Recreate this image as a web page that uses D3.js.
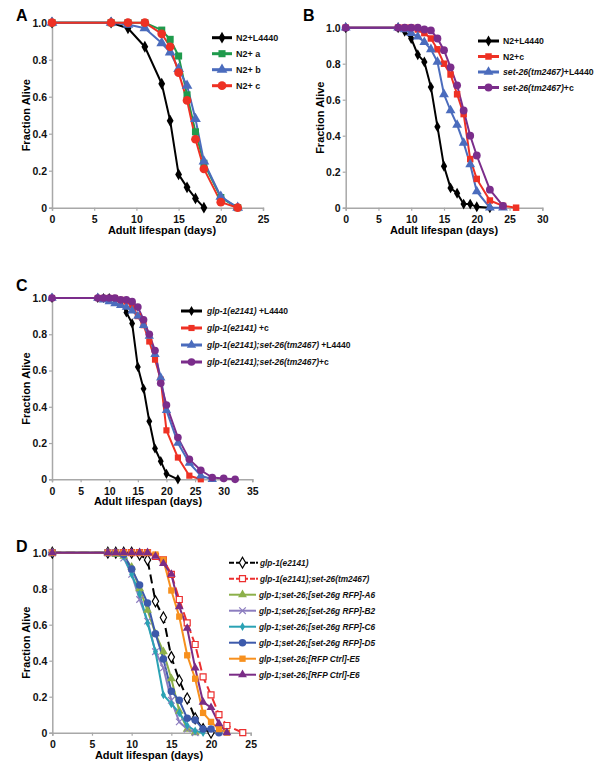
<!DOCTYPE html>
<html><head><meta charset="utf-8">
<script src="https://cdn.jsdelivr.net/npm/d3@7"></script>
<style>
body{margin:0;background:#fff;}
text{font-family:"Liberation Sans",Arial,sans-serif;font-weight:bold;}
</style></head>
<body>
<svg id="chart" width="607" height="768"></svg>
<script>
// ---------- DATA ----------
// Panel A
const aN2L4440 = [[0,1],[7,1],[9,0.97],[11,0.87],[13,0.67],[14,0.47],[15,0.18],[16,0.11],[17,0.05],[18,0]];
const aN2a     = [[0,1],[7,1],[9,1],[11,1],[13,0.96],[14,0.91],[15,0.82],[16,0.61],[17,0.41],[18,0.24],[20,0.055],[22,0]];
const aN2b     = [[0,1],[7,1],[9,0.99],[11,0.97],[13,0.89],[14,0.84],[15,0.75],[16,0.66],[17,0.48],[18,0.25],[20,0.06],[22,0]];
const aN2c     = [[0,1],[7,1],[9,1],[11,1],[13,0.94],[14,0.87],[15,0.73],[16,0.58],[17,0.37],[18,0.21],[20,0.03],[22,0]];
// Panel B
const bN2L4440 = [[0,1],[8,1],[9,0.98],[10,0.94],[11,0.85],[12,0.81],[13,0.67],[14,0.45],[15,0.23],[16,0.11],[17,0.08],[18,0.02],[19,0.02],[20,0.005],[22,0]];
const bN2c     = [[0,1],[8,1],[9,1],[10,1],[11,0.99],[12,0.97],[13,0.94],[14,0.88],[15,0.80],[16,0.74],[17,0.63],[18,0.52],[19,0.27],[20,0.16],[22,0.04],[24,0.01],[26,0]];
const bSetL4440= [[0,1],[8,1],[9,0.99],[10,0.97],[11,0.95],[12,0.92],[13,0.88],[14,0.81],[15,0.63],[16,0.54],[17,0.46],[18,0.36],[19,0.24],[20,0.09],[22,0],[24,0]];
const bSetc    = [[0,1],[8,1],[9,1],[10,1],[11,1],[12,0.99],[13,0.985],[14,0.94],[15,0.875],[16,0.78],[17,0.68],[18,0.54],[19,0.40],[20,0.29],[22,0.10],[24,0.01]];
// Panel C
const cGlpL4440 = [[0,1],[8,1],[9,1],[10,1],[11,0.99],[12,0.98],[13,0.92],[14,0.86],[15,0.62],[16,0.50],[17,0.32],[18,0.17],[19,0.10],[20,0.03],[22,0]];
const cGlpc     = [[0,1],[8,1],[9,1],[10,1],[11,1],[12,0.99],[13,0.98],[14,0.96],[15,0.90],[16,0.85],[17,0.76],[18,0.66],[19,0.55],[20,0.27],[22,0.12],[24,0.02],[26,0]];
const cGlpSetL4440 = [[0,1],[8,1],[9,0.99],[10,0.98],[11,0.97],[12,0.96],[13,0.95],[14,0.93],[15,0.90],[16,0.85],[17,0.79],[18,0.69],[19,0.56],[20,0.38],[22,0.20],[24,0.09],[26,0.02],[28,0]];
const cGlpSetc  = [[0,1],[8,1],[9,1],[10,1],[11,1],[12,0.99],[13,0.99],[14,0.98],[15,0.95],[16,0.88],[17,0.80],[18,0.71],[19,0.53],[20,0.41],[22,0.23],[24,0.11],[26,0.05],[28,0.01],[30,0.005],[32,0]];
// Panel D
const dGlp   = [[0,1],[7,1],[8,1],[9,1],[10,1],[11,0.99],[12,0.96],[13,0.73],[14,0.64],[15,0.42],[16,0.29],[17,0.19],[18,0.08],[19,0.02],[20,0]];
const dGlpSet= [[0,1],[7,1],[8,1],[9,1],[10,1],[11,1],[12,1],[13,0.98],[14,0.96],[15,0.88],[16,0.74],[17,0.61],[18,0.49],[19,0.31],[20,0.21],[21,0.10],[22,0.04],[24,0]];
const dA6    = [[0,1],[7,1],[8,0.99],[9,0.98],[10,0.92],[11,0.80],[12,0.68],[13,0.55],[14,0.45],[15,0.30],[16,0.12],[17,0.02],[18,0]];
const dB2    = [[0,1],[7,1],[8,1],[9,0.97],[10,0.88],[11,0.74],[12,0.62],[13,0.45],[14,0.36],[15,0.18],[16,0.06],[17,0.02],[18,0]];
const dC6    = [[0,1],[7,1],[8,1],[9,0.98],[10,0.88],[11,0.77],[12,0.61],[13,0.45],[14,0.21],[15,0.16],[16,0.11],[17,0.04],[18,0.01],[19,0]];
const dD5    = [[0,1],[7,1],[8,1],[9,0.99],[10,0.91],[11,0.82],[12,0.72],[13,0.55],[14,0.41],[15,0.23],[16,0.18],[17,0.08],[18,0.07],[19,0.02],[20,0.02],[21,0]];
const dE5    = [[0,1],[7,1],[8,1],[9,1],[10,1],[11,1],[12,1],[13,0.99],[14,0.96],[15,0.79],[16,0.645],[17,0.43],[18,0.30],[19,0.11],[20,0.06],[21,0.02],[22,0]];
const dE6    = [[0,1],[7,1],[8,1],[9,1],[10,1],[11,1],[12,1],[13,0.98],[14,0.94],[15,0.88],[16,0.70],[17,0.58],[18,0.36],[19,0.17],[20,0.14],[21,0.05],[22,0]];

const yTicks = [0,0.2,0.4,0.6,0.8,1.0];
const xTicksA = [0,5,10,15,20,25];
const xTicksB = [0,5,10,15,20,25,30];
const xTicksC = [0,5,10,15,20,25,30,35];
const xTicksD = [0,5,10,15,20,25];

// ---------- DRAW ----------
const svg = d3.select("#chart");

function drawPanel(p){
  const g = svg.append("g");
  const x = d3.scaleLinear().domain([0, p.xmax]).range([p.x0, p.x1]);
  const y = d3.scaleLinear().domain([0,1]).range([p.yb, p.yt]);
  const axisCol = "#a8a8a8";
  // axes
  const xa = g.append("g").attr("transform",`translate(0,${p.yb})`)
    .call(d3.axisBottom(x).tickValues(p.xticks).tickSize(3).tickFormat(d3.format("d")));
  const ya = g.append("g").attr("transform",`translate(${p.x0},0)`)
    .call(d3.axisLeft(y).tickValues(yTicks).tickSize(3).tickFormat(d=>d===0?"0":d3.format(".1f")(d)));
  [xa,ya].forEach(a=>{
    a.select(".domain").attr("stroke",axisCol).attr("stroke-width",1.5);
    a.selectAll(".tick line").attr("stroke",axisCol).attr("stroke-width",1.2);
    a.selectAll(".tick text").attr("fill","#111").style("font-size","10.5px").style("font-weight","bold")
      .style("font-family","'Liberation Sans',Arial,sans-serif");
  });
  xa.selectAll(".tick text").attr("dy","0.9em");
  ya.selectAll(".tick text").attr("x",-5);
  // titles
  g.append("text").attr("x",p.xtx).attr("y",p.yb+26).attr("text-anchor","middle")
    .style("font-size","11px").text("Adult lifespan (days)");
  g.append("text").attr("transform",`translate(${p.x0-22},${(p.yt+p.yb)/2}) rotate(-90)`)
    .attr("text-anchor","middle").style("font-size","11px").text("Fraction Alive");
  g.append("text").attr("x",p.lx).attr("y",p.ly).style("font-size","16px").text(p.letter);

  const line = d3.line().x(d=>x(d[0])).y(d=>y(d[1]));
  p.series.forEach(s=>{
    g.append("path").datum(s.data).attr("d",line).attr("fill","none")
      .attr("stroke",s.color).attr("stroke-width",p.lw)
      .attr("stroke-dasharray",s.dash||null).attr("stroke-linejoin","round");
  });
  p.series.forEach(s=>{
    const sym = d3.symbol().type(s.shape).size(s.size||p.msize);
    g.selectAll(null).data(s.data).join("path")
      .attr("transform",d=>`translate(${x(d[0])},${y(d[1])})`)
      .attr("d",sym)
      .attr("fill",s.open?"#fff":(s.stroke?"none":s.color))
      .attr("stroke",s.open||s.stroke?s.color:"none")
      .attr("stroke-width",s.open||s.stroke?1.2:0);
  });
  // legend
  p.series.forEach((s,i)=>{
    const ly = p.legY + i*p.legStep;
    g.append("line").attr("x1",p.legX).attr("x2",p.legX+p.legLen).attr("y1",ly).attr("y2",ly)
      .attr("stroke",s.color).attr("stroke-width",p.legLw).attr("stroke-dasharray",s.dash?"5,2":null);
    g.append("path").attr("transform",`translate(${p.legX+p.legLen/2+p.legMk},${ly})`)
      .attr("d",d3.symbol().type(s.shape).size(s.size||p.msize))
      .attr("fill",s.open?"#fff":(s.stroke?"none":s.color))
      .attr("stroke",s.open||s.stroke?s.color:"none")
      .attr("stroke-width",s.open||s.stroke?1.2:0);
    let tx = p.legX+p.legLen+p.legGap;
    if(s.dot){
      g.append("rect").attr("x",tx-3).attr("y",ly-1).attr("width",2).attr("height",2).attr("fill",s.color);
      tx += 1;
    }
    const t = g.append("text").attr("x",tx).attr("y",ly+3.2).style("font-size",p.legFs+"px").attr("fill","#111");
    s.label.forEach(part=>{
      t.append("tspan").style("font-style",part[1]?"italic":"normal").text(part[0]);
    });
  });
}

const K="#000";
drawPanel({letter:"A",lx:16,ly:21,x0:52,x1:263,xmax:25,yt:22.7,yb:207.7,xticks:xTicksA,xtx:162,
  lw:2,msize:50,legX:212,legLen:20,legMk:0,legGap:4,legY:37.7,legStep:16,legLw:3,legFs:9,
  series:[
   {data:aN2L4440,color:K,shape:d3.symbolDiamond,size:40,label:[["N2+L4440",0]]},
   {data:aN2a,color:"#1f9a4c",shape:d3.symbolSquare,label:[["N2+ a",0]]},
   {data:aN2b,color:"#4b6cbd",shape:d3.symbolTriangle,label:[["N2+ b",0]]},
   {data:aN2c,color:"#ee3124",shape:d3.symbolCircle,size:60,label:[["N2+ c",0]]}
  ]});
drawPanel({letter:"B",lx:303,ly:21,x0:345.7,x1:542.3,xmax:30,yt:27.7,yb:207.7,xticks:xTicksB,xtx:444,
  lw:2,msize:42,legX:478,legLen:21,legMk:0,legGap:4,legY:41,legStep:15.5,legLw:3,legFs:8.7,
  series:[
   {data:bN2L4440,color:K,shape:d3.symbolDiamond,size:34,label:[["N2+L4440",0]]},
   {data:bN2c,color:"#ee3124",shape:d3.symbolSquare,label:[["N2+c",0]]},
   {data:bSetL4440,color:"#4b6cbd",shape:d3.symbolTriangle,label:[["set-26(tm2467)",1],["+L4440",0]]},
   {data:bSetc,color:"#7b2d8b",shape:d3.symbolCircle,size:48,label:[["set-26(tm2467)",1],["+c",0]]}
  ]});
drawPanel({letter:"C",lx:16,ly:291,x0:52,x1:252.3,xmax:35,yt:298,yb:479.3,xticks:xTicksC,xtx:148,
  lw:2,msize:38,legX:181,legLen:21,legMk:0,legGap:5,legY:311,legStep:17,legLw:3,legFs:8.5,
  series:[
   {data:cGlpL4440,color:K,shape:d3.symbolDiamond,size:30,label:[["glp-1(e2141)",1],[" +L4440",0]]},
   {data:cGlpc,color:"#ee3124",shape:d3.symbolSquare,label:[["glp-1(e2141)",1],[" +c",0]]},
   {data:cGlpSetL4440,color:"#4b6cbd",shape:d3.symbolTriangle,label:[["glp-1(e2141);set-26(tm2467)",1],[" +L4440",0]]},
   {data:cGlpSetc,color:"#7b2d8b",shape:d3.symbolCircle,size:46,label:[["glp-1(e2141);set-26(tm2467)",1],["+c",0]]}
  ]});
drawPanel({letter:"D",lx:16,ly:552,x0:52.3,x1:250.7,xmax:25,yt:552.7,yb:732.7,xticks:xTicksD,xtx:149,
  lw:2,msize:34,legX:229,legLen:27,legMk:0,legGap:3,legY:562.7,legStep:16,legLw:2,legFs:8.3,
  series:[
   {data:dGlp,color:K,shape:d3.symbolDiamond,open:true,size:34,dash:"9,5",dot:true,label:[["glp-1(e2141)",1]]},
   {data:dGlpSet,color:"#ec2f2f",shape:d3.symbolSquare,open:true,size:36,dash:"9,4",dot:true,label:[["glp-1(e2141);set-26(tm2467)",1]]},
   {data:dA6,color:"#8cb04a",shape:d3.symbolTriangle,label:[["glp-1;set-26;[set-26g RFP]-A6",1]]},
   {data:dB2,color:"#8c7dbf",shape:d3.symbolTimes,stroke:true,size:30,label:[["glp-1;set-26;[set-26g RFP]-B2",1]]},
   {data:dC6,color:"#2aa2b4",shape:d3.symbolDiamond,size:22,label:[["glp-1;set-26;[set-26g RFP]-C6",1]]},
   {data:dD5,color:"#3d5aab",shape:d3.symbolCircle,size:44,label:[["glp-1;set-26;[set-26g RFP]-D5",1]]},
   {data:dE5,color:"#f7901e",shape:d3.symbolSquare,size:40,label:[["glp-1;set-26;[RFP Ctrl]-E5",1]]},
   {data:dE6,color:"#7a2c86",shape:d3.symbolTriangle,size:34,label:[["glp-1;set-26;[RFP Ctrl]-E6",1]]}
  ]});
</script>
</body></html>
